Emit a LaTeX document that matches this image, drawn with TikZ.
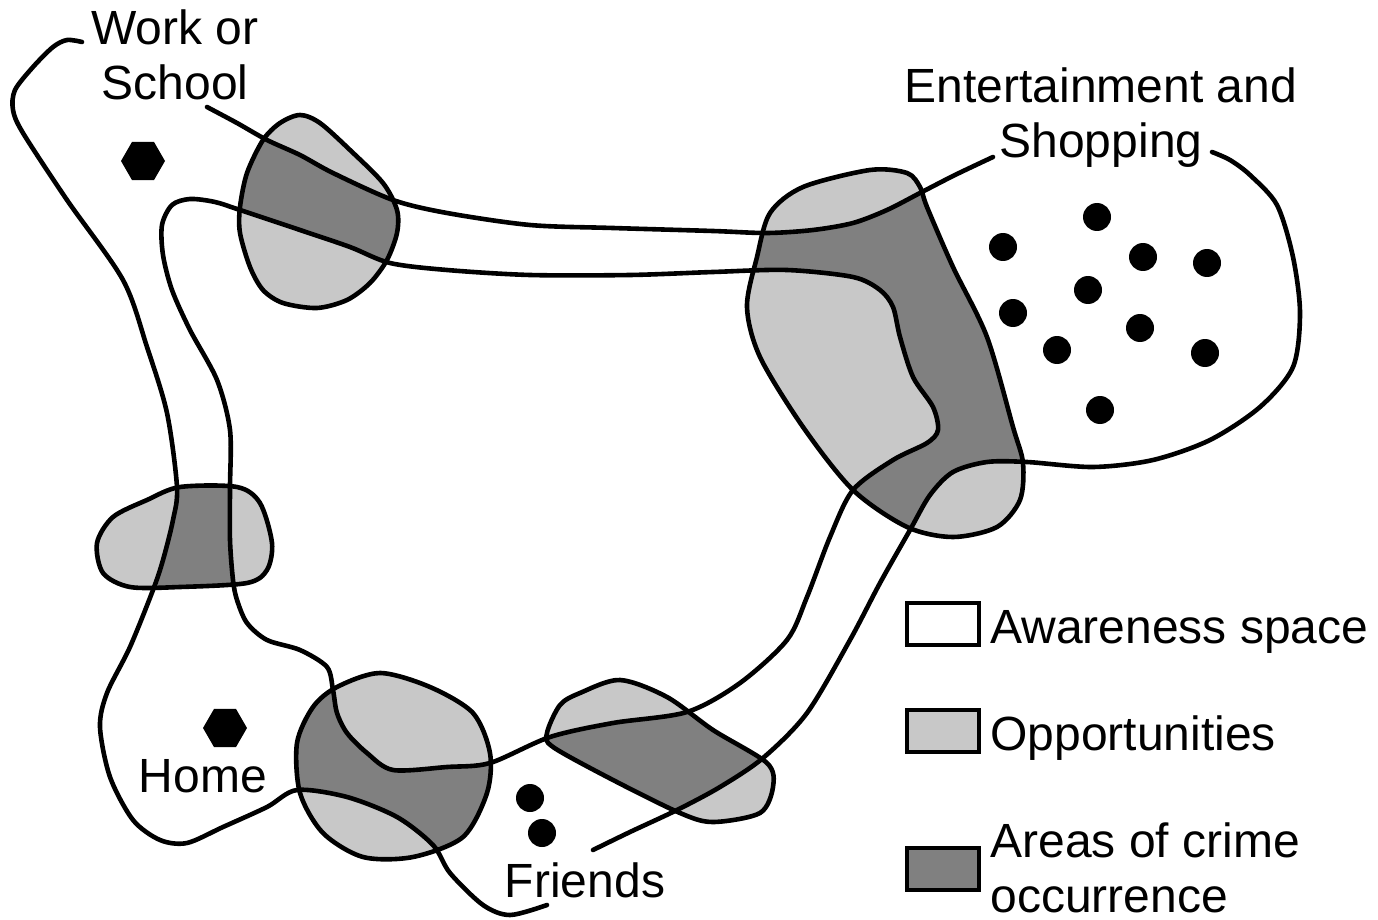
\documentclass[tikz,border=0pt]{standalone}
\usepackage{fontspec}
\setmainfont{Liberation Sans}
\usetikzlibrary{shapes.geometric}
\definecolor{oppgray}{RGB}{200,200,200}
\definecolor{crimegray}{RGB}{128,128,128}

\begin{document}
\begin{tikzpicture}[x=0.5pt, y=-0.5pt,
    lane/.style={line width=2.3pt, line join=round, line cap=round},
    tag/.style={font=\fontsize{24}{27.5}\selectfont, align=center, inner sep=0pt},
    site/.style={circle, fill=black, inner sep=0pt, minimum size=14pt},
    hub/.style={regular polygon, regular polygon sides=6, fill=black,
                inner sep=0pt, minimum size=22pt},
    swatch/.style={draw, line width=2.3pt, minimum width=36pt,
                   minimum height=21pt, inner sep=0pt},
    workspot/.style={insert path={plot[smooth cycle] coordinates {(300,115) (320,123)
        (350,150) (383,183) (397,210) (397,233) (387,260) (370,283) (347,300) (317,308)
        (283,303) (263,290) (250,267) (240,233) (240,207) (247,173) (263,140) (280,123)}}},
    shopspot/.style={insert path={plot[smooth cycle] coordinates {(770,213) (803,187)
        (870,170) (907,173) (920,187) (927,207) (953,267) (987,337) (1013,427) (1023,463)
        (1020,500) (997,527) (953,537) (907,527) (853,490) (803,427) (760,357) (747,307)
        (757,257)}}},
    midspot/.style={insert path={plot[smooth cycle] coordinates {(97,543) (113,517)
        (147,500) (180,487) (237,487) (260,503) (272,543) (267,570) (247,583) (180,587)
        (130,587) (103,573)}}},
    homespot/.style={insert path={plot[smooth cycle] coordinates {(337,687) (380,673)
        (430,687) (473,713) (490,753) (487,793) (463,837) (413,857) (363,857) (323,833)
        (300,793) (297,743) (313,707)}}},
    friendspot/.style={insert path={plot[smooth cycle] coordinates {(580,693) (620,680)
        (667,697) (713,730) (767,763) (773,787) (760,813) (713,822) (680,813) (613,780)
        (553,747) (547,733) (560,705)}}},
    westroute/.style={insert path={-- plot[smooth] coordinates {(82,42) (67,40) (53,47)
        (33,67) (15,90) (13,110) (23,133) (67,200) (123,280) (147,347) (167,413) (177,487)
        (173,520) (163,560) (153,590) (130,647) (107,693) (100,727) (110,777) (133,820)
        (160,840) (187,843) (223,827) (267,807) (297,790) (347,797) (397,817) (433,845)
        (450,873) (483,905) (510,915) (547,905)}}},
    eastroute/.style={insert path={-- plot[smooth] coordinates {(593,850) (630,832)
        (677,810) (720,787) (763,758) (807,713) (850,640) (880,583) (910,530) (930,495)
        (953,472) (987,462) (1027,462) (1093,467) (1153,460) (1210,440) (1260,407)
        (1293,367) (1300,313) (1293,257) (1277,205) (1250,175) (1230,160) (1212,152)}}},
    northroute/.style={insert path={-- plot[smooth] coordinates {(993,157) (955,175)
        (920,193) (887,210) (853,223) (813,230) (767,233) (713,231) (613,228) (530,225)
        (447,213) (393,200) (333,173) (300,155) (267,140) (237,123) (207,107)}}},
    innerroute/.style={insert path={plot[smooth cycle] coordinates {(240,210) (300,230)
        (350,247) (390,263) (447,270) (530,275) (630,275) (713,272) (787,270) (853,277)
        (880,290) (893,307) (900,337) (913,377) (933,407) (938,430) (927,443) (893,460)
        (853,490) (830,537) (807,597) (787,640) (740,683) (687,712) (613,723) (550,737)
        (490,763) (447,767) (393,770) (367,753) (347,733) (337,713) (333,690) (327,667)
        (300,650) (267,640) (247,623) (237,600) (233,580) (230,540) (230,487) (230,430)
        (217,380) (190,330) (172,290) (163,255) (162,225) (172,205) (190,199) (215,202)}}},
]

    \useasboundingbox (0,0) rectangle (1378,920);

    \fill[oppgray] [workspot] [shopspot] [midspot] [homespot] [friendspot];
    \begin{scope}
        \clip [workspot] [shopspot] [midspot] [homespot] [friendspot];
        \fill[crimegray] (82,42) [westroute] [eastroute] [northroute] -- cycle;
        \fill[oppgray] [innerroute];
    \end{scope}
    \draw[lane] [workspot] [shopspot] [midspot] [homespot] [friendspot];
    \draw[lane] (82,42) [westroute];
    \draw[lane] (593,850) [eastroute];
    \draw[lane] (993,157) [northroute];
    \draw[lane] [innerroute];

    \node[hub] (school) at (143,161) {};
    \node[hub] (house) at (225,728) {};
    \node[site] (pal1) at (530,798) {};
    \node[site] (pal2) at (542,833) {};
    \foreach \p [count=\i] in {(1097,217),(1003,247),(1143,257),(1207,263),(1088,290),
        (1013,313),(1140,328),(1057,350),(1205,353),(1100,410)}
        \node[site] (store\i) at \p {};

    \node[tag] (work) at (175,55) {Work or\\School};
    \node[tag] (shops) at (1101,118) {Entertainment and\\Shopping};
    \node[tag, anchor=base] (home) at (203,792) {Home};
    \node[tag, anchor=base] (friends) at (585,897) {Friends};

    \node[swatch] (aware) at (943,624) {};
    \node[swatch, fill=oppgray] (opps) at (943,731) {};
    \node[swatch, fill=crimegray] (crime) at (943,869) {};
    \node[tag, anchor=base west] (awaretext) at (990,643) {Awareness space};
    \node[tag, anchor=base west] (oppstext) at (990,750) {Opportunities};
    \node[tag, anchor=north west, align=left] (crimetext) at (990,822)
        {Areas of crime\\occurrence};

\end{tikzpicture}
\end{document}
